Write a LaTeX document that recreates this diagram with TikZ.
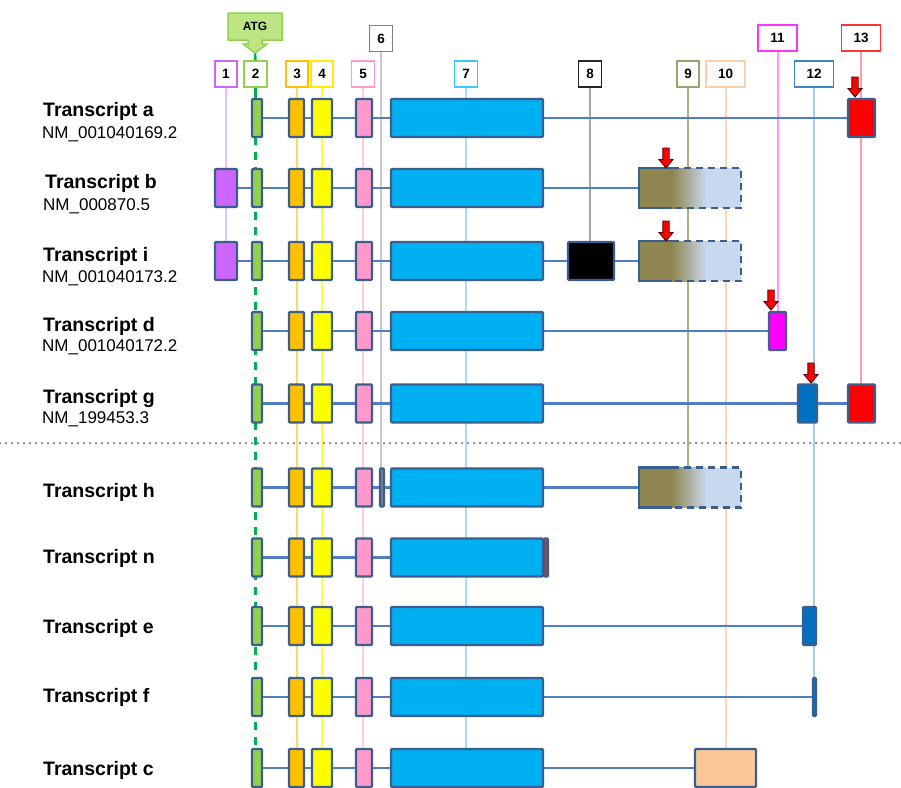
\documentclass[tikz,border=0pt]{standalone}
\usepackage{fontspec}
\setmainfont{Liberation Sans}
\definecolor{exedge}{HTML}{3A5F8F}
\definecolor{introncol}{HTML}{4F7FC0}
\definecolor{cA}{HTML}{CC66FF}
\definecolor{cB}{HTML}{92D050}
\definecolor{cC}{HTML}{FFC000}
\definecolor{cD}{HTML}{FFFF00}
\definecolor{cE}{HTML}{FF99CC}
\definecolor{cF}{HTML}{7F7F7F}
\definecolor{cG}{HTML}{00B0F0}
\definecolor{cH}{HTML}{000000}
\definecolor{cI}{HTML}{8E8550}
\definecolor{cJ}{HTML}{FAC896}
\definecolor{cK}{HTML}{FF00FF}
\definecolor{cL}{HTML}{0070C0}
\definecolor{cM}{HTML}{FF0000}
\definecolor{cN}{HTML}{C0392B}
\definecolor{gradlight}{HTML}{C8D8EE}
% label borders
\definecolor{bA}{HTML}{CC66FF}
\definecolor{bB}{HTML}{92D050}
\definecolor{bC}{HTML}{FFC000}
\definecolor{bD}{HTML}{FFEE00}
\definecolor{bE}{HTML}{FF99CC}
\definecolor{bF}{HTML}{808080}
\definecolor{bG}{HTML}{33CCFF}
\definecolor{bH}{HTML}{262626}
\definecolor{bI}{HTML}{A49E6C}
\definecolor{bJ}{HTML}{FCCFA8}
\definecolor{bK}{HTML}{FF33FF}
\definecolor{bL}{HTML}{3C85C8}
\definecolor{bM}{HTML}{FF3333}
% vertical lines
\definecolor{vA}{HTML}{E8C3F8}
\definecolor{vB}{HTML}{00B050}
\definecolor{vC}{HTML}{FFD966}
\definecolor{vD}{HTML}{FFFF40}
\definecolor{vE}{HTML}{FFCCE0}
\definecolor{vF}{HTML}{C8C8C8}
\definecolor{vG}{HTML}{A8DDF5}
\definecolor{vH}{HTML}{A6A6A6}
\definecolor{vI}{HTML}{B5AC80}
\definecolor{vJ}{HTML}{FCD5B4}
\definecolor{vK}{HTML}{FF99FF}
\definecolor{vL}{HTML}{A9CCEB}
\definecolor{vM}{HTML}{FFA0A0}
\definecolor{atgfill}{HTML}{BDE584}
\pgfdeclarelayer{bg}
\pgfdeclarelayer{mid}
\pgfsetlayers{bg,mid,main}
\tikzset{
  exon/.style={draw=exedge, line width=2.3pt, rounded corners=1pt, minimum height=38pt, inner sep=0pt, outer sep=0pt},
  lab/.style={draw, line width=1.5pt, fill=white, minimum height=26pt, minimum width=22pt, inner sep=0pt, outer sep=0pt, font=\bfseries\fontsize{13.5}{13.5}\selectfont},
  vline/.style={line width=2pt},
  intronline/.style={draw=introncol, line width=2.5pt},
  tname/.style={anchor=west, font=\bfseries\fontsize{19.5}{20}\selectfont, inner sep=0pt},
  tnm/.style={anchor=west, font=\fontsize{17}{18}\selectfont, inner sep=0pt},
  redarrow/.style={fill=red, draw=black!65!red, line width=0.9pt, line join=miter},
}
\newcommand\ex[5]{\node[exon, fill=#5, minimum width=#4pt] (#1) at (#2,#3) {};}
\newcommand\core[2]{%
  \ex{#12}{257}{#2}{10}{cB}%
  \ex{#13}{296.5}{#2}{15}{cC}%
  \ex{#14}{322}{#2}{20}{cD}%
  \ex{#15}{364}{#2}{16}{cE}%
  \ex{#17}{467}{#2}{152}{cG}}
\newcommand\gbox[2]{%
  \fill[cI] (639,#2-20) rectangle (672,#2+20);
  \shade[left color=cI, right color=gradlight] (672,#2-20) rectangle (706,#2+20);
  \fill[gradlight] (706,#2-20) rectangle (741,#2+20);
  \draw[exedge, line width=2.3pt] (672,#2-20) -- (639,#2-20) -- (639,#2+20) -- (672,#2+20);
  \draw[exedge, line width=2.3pt, dash pattern=on 7pt off 5pt] (672,#2-20) -- (741,#2-20) -- (741,#2+20) -- (672,#2+20);
  \node[minimum width=102pt, minimum height=40pt, inner sep=0pt, outer sep=0pt] (#1) at (690,#2) {};}
\newcommand\redarr[2]{%
  \draw[redarrow] (#1-3.2,#2-20) -- (#1+3.2,#2-20) -- (#1+3.2,#2-8.5) -- (#1+7,#2-8.5) -- (#1,#2) -- (#1-7,#2-8.5) -- (#1-3.2,#2-8.5) -- cycle;}
\begin{document}
\begin{tikzpicture}[x=1pt, y=-1pt]
\useasboundingbox (0,0) rectangle (901,787);
\coordinate (bot) at (0,790);

% ATG callout
\draw[draw=bB, fill=atgfill, line width=1.5pt, line join=miter] (228,13) -- (282,13) -- (282,40) -- (262,40) -- (262,44) -- (267,44) -- (255,53) -- (243,44) -- (248,44) -- (248,40) -- (228,40) -- cycle;
\node[font=\bfseries\fontsize{12}{12}\selectfont, inner sep=0pt] (atg) at (255,26.5) {ATG};
\coordinate (atgtip) at (255,53);

% label boxes
\node[lab, draw=bA] (l1) at (226,74) {1};
\node[lab, draw=bB, minimum width=23pt] (l2) at (255.5,74) {2};
\node[lab, draw=bC] (l3) at (297,74) {3};
\node[lab, draw=bD] (l4) at (322,74) {4};
\node[lab, draw=bE, minimum width=23pt] (l5) at (363,74) {5};
\node[lab, draw=bF, minimum width=23pt] (l6) at (381,38.5) {6};
\node[lab, draw=bG, minimum width=23pt] (l7) at (466,74) {7};
\node[lab, draw=bH, minimum width=23pt] (l8) at (590,74) {8};
\node[lab, draw=bI] (l9) at (688,74) {9};
\node[lab, draw=bJ, minimum width=39pt] (l10) at (725.5,74) {10};
\node[lab, draw=bK, minimum width=39pt] (l11) at (777.5,38) {11};
\node[lab, draw=bL, minimum width=39pt] (l12) at (814,74) {12};
\node[lab, draw=bM, minimum width=39pt] (l13) at (861,38) {13};

% transcript names
\node[tname] (ta) at (43,111) {Transcript a};
\node[tnm] (na) at (42,134) {NM\_001040169.2};
\node[tname] (tb) at (45,183) {Transcript b};
\node[tnm] (nb) at (43,206) {NM\_000870.5};
\node[tname] (ti) at (43,256) {Transcript i};
\node[tnm] (ni) at (42,278) {NM\_001040173.2};
\node[tname] (td) at (43,326) {Transcript d};
\node[tnm] (nd) at (42,347) {NM\_001040172.2};
\node[tname] (tg) at (43,398) {Transcript g};
\node[tnm] (ng) at (42,419) {NM\_199453.3};
\node[tname] (th) at (43,492) {Transcript h};
\node[tname] (tn) at (43,558) {Transcript n};
\node[tname] (te) at (43,628) {Transcript e};
\node[tname] (tf) at (43,697) {Transcript f};
\node[tname] (tc) at (43,770) {Transcript c};

% transcript a
\core{a}{118}
\ex{a13}{861.5}{118}{27}{cM}
% transcript b
\ex{b1}{226}{188}{22}{cA}
\core{b}{188}
\gbox{b9}{188}
% transcript i
\ex{i1}{226}{261}{22}{cA}
\core{i}{261}
\ex{i8}{591}{261}{46}{cH}
\gbox{i9}{261}
% transcript d
\core{d}{331}
\ex{d11}{777.5}{331}{17}{cK}
% transcript g
\core{g}{403.5}
\ex{g12}{807.5}{403.5}{19}{cL}
\ex{g13}{861.5}{403.5}{27}{cM}
% transcript h
\core{h}{487.5}
\ex{h6}{382}{487.5}{4}{cF}
\gbox{h9}{487.5}
% transcript n
\core{n}{557.5}
\ex{nx}{546}{557.5}{4}{cN}
% transcript e
\core{e}{626}
\ex{e12}{809.5}{626}{13}{cL}
% transcript f
\core{f}{697}
\ex{f12}{814.5}{697}{3}{cL}
% transcript c
\core{c}{768}
\ex{c10}{725.5}{768}{61}{cJ}

% red arrows
\redarr{855}{97}
\redarr{666}{168}
\redarr{666}{241}
\redarr{771}{310}
\redarr{811}{383}

% separator
\coordinate (sepL) at (0,443);
\coordinate (sepR) at (901,443);
\draw[gray, line width=2.5pt, dash pattern=on 0pt off 6pt, line cap=round] (sepL) -- (sepR);

\begin{pgfonlayer}{mid}
  \draw[intronline] (a2) -- (a13);
  \draw[intronline] (b1) -- (b9);
  \draw[intronline] (i1) -- (i9);
  \draw[intronline] (d2) -- (d11);
  \draw[intronline] (g2) -- (g13);
  \draw[intronline] (h2) -- (h9);
  \draw[intronline] (n2) -- (n7);
  \draw[intronline] (e2) -- (e12);
  \draw[intronline] (f2) -- (f12);
  \draw[intronline] (c2) -- (c10);
\end{pgfonlayer}

\begin{pgfonlayer}{bg}
  \draw[vline, vA] (l1.south) -- (l1.south |- i1.north);
  \draw[line width=2.5pt, vB] (atgtip) -- (l2.north);
  \draw[line width=2.5pt, vB] (l2.south) -- (l2.south |- a2.north);
  \draw[line width=2.5pt, vB, dash pattern=on 8pt off 7pt] (l2.south |- a2.south) -- (l2.south |- bot);
  \draw[vline, vC] (l3.south) -- (l3.south |- bot);
  \draw[vline, vD] (l4.south) -- (l4.south |- bot);
  \draw[vline, vE] (l5.south) -- (l5.south |- bot);
  \draw[vline, vF] (l6.south) -- (l6.south |- h6.north);
  \draw[vline, vG] (l7.south) -- (l7.south |- bot);
  \draw[vline, vH] (l8.south) -- (l8.south |- i8.north);
  \draw[vline, vI] (l9.south) -- (l9.south |- h9.north);
  \draw[vline, vJ] (l10.south) -- (l10.south |- c10.north);
  \draw[vline, vK] (l11.south) -- (l11.south |- d11.north);
  \draw[vline, vL] (l12.south) -- (l12.south |- f12.north);
  \draw[vline, vM] (l13.south) -- (l13.south |- g13.north);
\end{pgfonlayer}
\end{tikzpicture}
\end{document}
